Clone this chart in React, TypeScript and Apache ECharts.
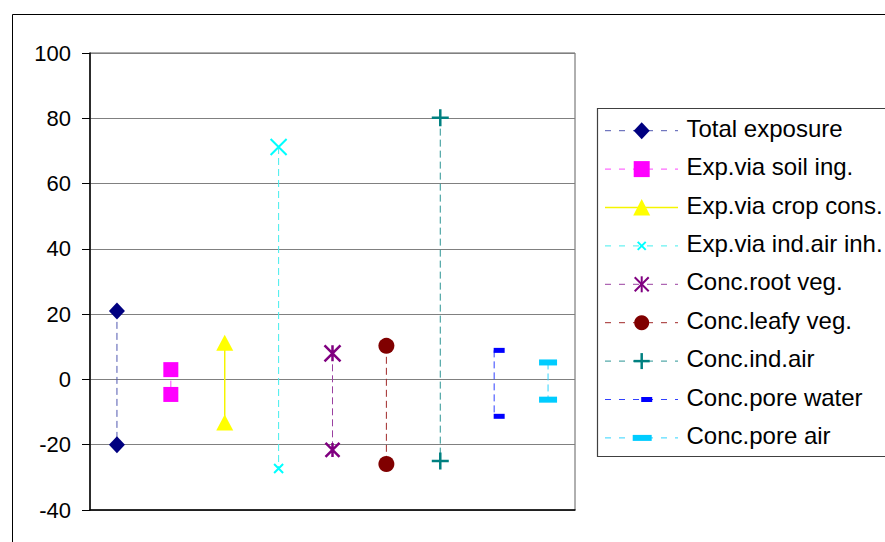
import React, { useEffect, useRef } from "react";
import * as echarts from "echarts";

// ---- data ----
const seriesNames = [
  "Total exposure",
  "Exp.via soil ing.",
  "Exp.via crop cons.",
  "Exp.via ind.air inh.",
  "Conc.root veg.",
  "Conc.leafy veg.",
  "Conc.ind.air",
  "Conc.pore water",
  "Conc.pore air",
];
const categories = ["c1", "c2", "c3", "c4", "c5", "c6", "c7", "c8", "c9"];
const upperValues = [21, 3, 11.2, 71.2, 8, 10.3, 80.2, 8.9, 5.2];
const lowerValues = [-20, -4.6, -13.2, -27.3, -21.6, -25.9, -25, -11.3, -6.2];
const yMin = -40;
const yMax = 100;
const yStep = 20;

// ---- styles ----
const FONT = "'Liberation Sans', Arial, sans-serif";
const markerColors = ["#000080", "#FF00FF", "#FFFF00", "#00FFFF", "#800080", "#800000", "#008080", "#0000FF", "#00CCFF"];
const lineColors = ["#5058b0", "#ff44ff", "#f5f500", "#44eeee", "#9a40a0", "#a02828", "#2a9494", "#3040ff", "#30d4ff"];
const dashed = [true, true, false, true, true, true, true, true, true];

const X_PATH = "path://M0,0L10,10M10,0L0,10";
const ASTER_PATH = "path://M0,0L10,10M10,0L0,10M5,0L5,10";
const PLUS_PATH = "path://M5,0L5,10M0,5L10,5";

function symbolFor(i: number): any {
  switch (i) {
    case 0: return { symbol: "diamond", symbolSize: [16, 17], itemStyle: { color: markerColors[i] } };
    case 1: return { symbol: "rect", symbolSize: 15, itemStyle: { color: markerColors[i] } };
    case 2: return { symbol: "triangle", symbolSize: [17, 16], itemStyle: { color: markerColors[i] } };
    case 3: return { symbol: X_PATH, symbolSize: 14, itemStyle: { color: "transparent", borderColor: markerColors[i], borderWidth: 2 } };
    case 4: return { symbol: ASTER_PATH, symbolSize: 15, itemStyle: { color: "transparent", borderColor: markerColors[i], borderWidth: 2.5 } };
    case 5: return { symbol: "circle", symbolSize: 16, itemStyle: { color: markerColors[i] } };
    case 6: return { symbol: PLUS_PATH, symbolSize: 17, itemStyle: { color: "transparent", borderColor: markerColors[i], borderWidth: 2.5 } };
    case 7: return { symbol: "rect", symbolSize: [11, 5], symbolOffset: [5, 0], itemStyle: { color: markerColors[i] } };
    default: return { symbol: "rect", symbolSize: [18, 6], itemStyle: { color: markerColors[i] } };
  }
}

const upperSizes: Record<number, number> = { 3: 16, 4: 16 };
const lowerSizes: Record<number, number> = { 3: 9, 4: 14 };

function legendMarker(i: number, x: number, y: number): any[] {
  const c = markerColors[i];
  switch (i) {
    case 0: return [{ type: "polygon", shape: { points: [[x, y - 8.5], [x + 8, y], [x, y + 8.5], [x - 8, y]] }, style: { fill: c } }];
    case 1: return [{ type: "rect", shape: { x: x - 8, y: y - 8, width: 16, height: 16 }, style: { fill: c } }];
    case 2: return [{ type: "polygon", shape: { points: [[x, y - 8.5], [x + 8.5, y + 8], [x - 8.5, y + 8]] }, style: { fill: c } }];
    case 3: return [
      { type: "line", shape: { x1: x - 4, y1: y - 4, x2: x + 4, y2: y + 4 }, style: { stroke: c, lineWidth: 2 } },
      { type: "line", shape: { x1: x + 4, y1: y - 4, x2: x - 4, y2: y + 4 }, style: { stroke: c, lineWidth: 2 } },
    ];
    case 4: return [
      { type: "line", shape: { x1: x - 7, y1: y - 7, x2: x + 7, y2: y + 7 }, style: { stroke: c, lineWidth: 2 } },
      { type: "line", shape: { x1: x + 7, y1: y - 7, x2: x - 7, y2: y + 7 }, style: { stroke: c, lineWidth: 2 } },
      { type: "line", shape: { x1: x, y1: y - 8, x2: x, y2: y + 8 }, style: { stroke: c, lineWidth: 2 } },
    ];
    case 5: return [{ type: "circle", shape: { cx: x, cy: y, r: 7.5 }, style: { fill: c } }];
    case 6: return [
      { type: "line", shape: { x1: x - 8, y1: y, x2: x + 8, y2: y }, style: { stroke: c, lineWidth: 2.5 } },
      { type: "line", shape: { x1: x, y1: y - 8, x2: x, y2: y + 8 }, style: { stroke: c, lineWidth: 2.5 } },
    ];
    case 7: return [{ type: "rect", shape: { x: x - 0.5, y: y - 2.5, width: 11, height: 5 }, style: { fill: c } }];
    default: return [{ type: "rect", shape: { x: x - 9, y: y - 3, width: 19, height: 6 }, style: { fill: c } }];
  }
}

export default function App() {
  const ref = useRef<HTMLDivElement>(null);

  useEffect(() => {
    if (!ref.current) return;
    const chart = echarts.init(ref.current, null, { renderer: "svg" });

    const series = seriesNames.map((name, i) => {
      const s = symbolFor(i);
      return {
        name,
        type: "line",
        ...s,
        z: 3,
        lineStyle: { color: lineColors[i], width: dashed[i] ? 1 : 1.5, type: dashed[i] ? [7, 4] : "solid" },
        data: [
          { value: [categories[i], upperValues[i]], ...(upperSizes[i] ? { symbolSize: upperSizes[i] } : {}) },
          { value: [categories[i], lowerValues[i]], ...(lowerSizes[i] ? { symbolSize: lowerSizes[i] } : {}) },
        ],
      };
    });

    // legend drawn as graphic
    const legendEls: any[] = [];
    const lx0 = 605, lx1 = 678, mx = 641.7, tx = 686.5;
    seriesNames.forEach((name, i) => {
      const y = 130.7 + 38.4 * i;
      legendEls.push({
        type: "line",
        shape: { x1: lx0, y1: y, x2: lx1, y2: y },
        style: { stroke: lineColors[i], lineWidth: dashed[i] ? 1 : 1.5, lineDash: dashed[i] ? [6, 8] : null },
        z: 10,
      });
      legendMarker(i, mx, y).forEach((el) => legendEls.push({ ...el, z: 11 }));
      legendEls.push({
        type: "text",
        x: tx,
        y: y - 2.5,
        style: { text: name, fill: "#000", font: `24px ${FONT}`, verticalAlign: "middle", align: "left" },
        z: 11,
      });
    });

    chart.setOption({
      animation: false,
      backgroundColor: "#ffffff",
      grid: {
        left: 90,
        top: 53,
        width: 485,
        height: 457,
        show: true,
        borderColor: "#606060",
        borderWidth: 1,
      },
      xAxis: {
        type: "category",
        data: categories,
        boundaryGap: true,
        axisLine: { onZero: false, lineStyle: { color: "#000", width: 1.5 } },
        axisTick: { show: false },
        axisLabel: { show: false },
        splitLine: { show: false },
      },
      yAxis: {
        type: "value",
        min: yMin,
        max: yMax,
        interval: yStep,
        axisLine: { show: true, lineStyle: { color: "#000", width: 1.5 } },
        axisTick: { show: true, inside: false, length: 8, lineStyle: { color: "#000" } },
        axisLabel: { color: "#000", fontSize: 22, fontFamily: FONT, margin: 19 },
        splitLine: { show: true, lineStyle: { color: "#808080", width: 1 } },
      },
      series,
      graphic: [
        {
          type: "polyline",
          shape: { points: [[12.5, 560], [12.5, 14.5], [900, 14.5]] },
          style: { stroke: "#000", lineWidth: 1, fill: null },
          z: 1,
        },
        {
          type: "rect",
          shape: { x: 597.5, y: 108.5, width: 400, height: 348 },
          style: { stroke: "#404040", lineWidth: 1.2, fill: "#fff" },
          z: 9,
        },
        ...legendEls,
      ],
    });

    return () => chart.dispose();
  }, []);

  return (
    <div
      ref={ref}
      style={{ position: "fixed", left: 0, top: 0, width: 885, height: 542, background: "#fff" }}
    />
  );
}
